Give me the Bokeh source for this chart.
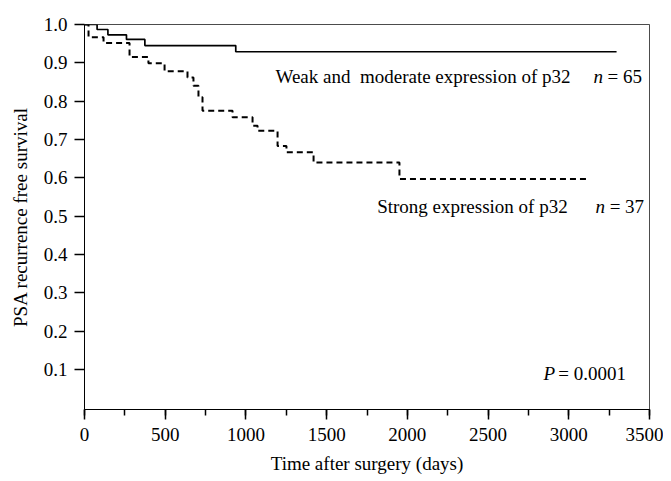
from bokeh.plotting import figure
from bokeh.models import Range1d, SingleIntervalTicker, FixedTicker, Label
from bokeh.embed import file_html
from bokeh.resources import INLINE

# Kaplan-Meier step data (time in days, survival fraction)
weak_t = [0, 78, 145, 260, 374, 937, 3296]
weak_s = [1.0, 0.987, 0.973, 0.961, 0.945, 0.929, 0.929]

strong_t = [0, 25, 118, 279, 396, 496, 638, 675, 706, 731, 917, 1041, 1072, 1196, 1251, 1419, 1951, 3122]
strong_s = [1.0, 0.967, 0.952, 0.915, 0.899, 0.878, 0.862, 0.84, 0.81, 0.775, 0.758, 0.736, 0.723, 0.683, 0.667, 0.640, 0.597, 0.597]

y_ticks = [0.1, 0.2, 0.3, 0.4, 0.5, 0.6, 0.7, 0.8, 0.9, 1.0]
y_tick_labels = {t: f"{t:.1f}" for t in y_ticks}

FONT = "Liberation Serif"
FS = "19px"

p = figure(width=663, height=478, x_range=Range1d(0, 3500), y_range=Range1d(-0.004, 1.0),
           output_backend="svg", toolbar_location=None,
           min_border_left=84, min_border_right=14, min_border_top=24, min_border_bottom=69)

p.step(weak_t, weak_s, mode="after", line_color="black", line_width=1.7)
p.step(strong_t, strong_s, mode="after", line_color="black", line_width=2, line_dash="6 4")

p.xgrid.visible = False
p.ygrid.visible = False
p.outline_line_color = "black"
p.outline_line_alpha = 0.7
p.outline_line_width = 1

p.xaxis.ticker = SingleIntervalTicker(interval=500, num_minor_ticks=2)
p.yaxis.ticker = FixedTicker(ticks=y_ticks)
p.yaxis.major_label_overrides = y_tick_labels

for ax in (p.xaxis, p.yaxis):
    ax.major_tick_in = 0
    ax.major_tick_out = 10
    ax.minor_tick_in = 0
    ax.minor_tick_out = 6
    ax.major_tick_line_color = "black"
    ax.major_tick_line_width = 1.5
    ax.minor_tick_line_color = "black"
    ax.minor_tick_line_width = 1.5
    ax.axis_line_color = "black"
    ax.axis_line_width = 1
    ax.major_label_text_font = FONT
    ax.major_label_text_font_size = FS
    ax.major_label_text_color = "black"
    ax.axis_label_text_font = FONT
    ax.axis_label_text_font_size = FS
    ax.axis_label_text_font_style = "normal"
    ax.axis_label_text_color = "black"

p.yaxis.minor_tick_out = 0
p.xaxis.major_label_standoff = 8
p.yaxis.major_label_standoff = 7
p.xaxis.axis_label = "Time after surgery (days)"
p.yaxis.axis_label = "PSA recurrence free survival"
p.xaxis.axis_label_standoff = 9
p.yaxis.axis_label_standoff = 10

def lab(x, y, text, style="normal"):
    p.add_layout(Label(x=x, y=y, text=text, text_font=FONT, text_font_size=FS,
                       text_font_style=style, text_color="black",
                       text_baseline="alphabetic", text_align="left"))

lab(1183, 0.864, "Weak and\u00a0\u00a0moderate expression of p32")
lab(3153, 0.864, "n", "italic")
lab(3240, 0.864, "= 65")
lab(1813, 0.526, "Strong expression of p32")
lab(3166, 0.526, "n", "italic")
lab(3253, 0.526, "= 37")
lab(2843, 0.091, "P", "italic")
lab(2935, 0.091, "= 0.0001")

open("out.html", "w").write(file_html(p, INLINE))
